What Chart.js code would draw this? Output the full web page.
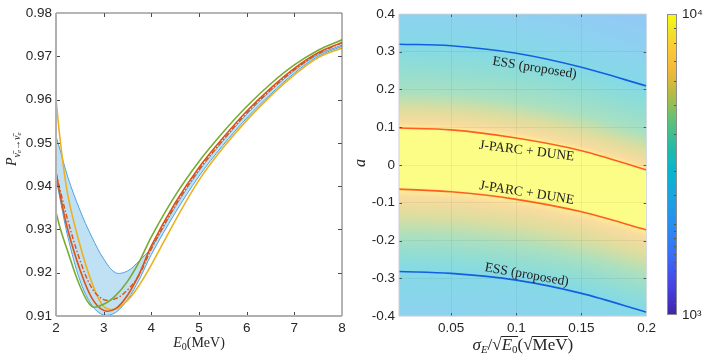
<!DOCTYPE html>
<html>
<head>
<meta charset="utf-8">
<script src="https://cdn.jsdelivr.net/npm/chart.js@4.4.0/dist/chart.umd.min.js"></script>
<style>
html, body { margin: 0; padding: 0; background: #fff; }
#wrap { position: relative; width: 706px; height: 358px; overflow: hidden; }
canvas { position: absolute; top: 0; }
</style>
</head>
<body>
<div id="wrap">
  <canvas id="left" width="350" height="358" style="left:0"></canvas>
  <canvas id="right" width="314" height="358" style="left:346px"></canvas>
  <canvas id="cbar" width="46" height="358" style="left:660px"></canvas>
</div>
<script>
// ---- left panel: survival probability vs E0 ----
const energy = [2, 2.1, 2.25, 2.5, 2.75, 3, 3.25, 3.5, 3.75, 4, 4.5, 5, 5.5, 6, 6.5, 7, 7.5, 8];
const probGreen = [0.9340, 0.9298, 0.9248, 0.9170, 0.9122, 0.9127, 0.9147, 0.9180, 0.9226, 0.9283, 0.9378, 0.9457, 0.9524, 0.9584, 0.9636, 0.9680, 0.9714, 0.9738];
const probRed = [0.9433, 0.9372, 0.9298, 0.9208, 0.9142, 0.9113, 0.9117, 0.9148, 0.9198, 0.9262, 0.9361, 0.9443, 0.9511, 0.9573, 0.9626, 0.9672, 0.9708, 0.9732];
const probRedDash = [0.9430, 0.9385, 0.9320, 0.9230, 0.9165, 0.9138, 0.9140, 0.9160, 0.9196, 0.9255, 0.9355, 0.9438, 0.9506, 0.9569, 0.9622, 0.9669, 0.9706, 0.9731];
const probYellow = [0.9600, 0.9495, 0.9378, 0.9265, 0.9178, 0.9122, 0.9116, 0.9136, 0.9172, 0.9218, 0.9320, 0.9414, 0.9488, 0.9552, 0.9608, 0.9657, 0.9697, 0.9719];
const bandUpper = [0.9516, 0.9478, 0.9420, 0.9345, 0.9283, 0.9232, 0.9200, 0.9204, 0.9228, 0.9258, 0.9352, 0.9435, 0.9504, 0.9566, 0.9620, 0.9667, 0.9704, 0.9726];
const bandLower = [0.9420, 0.9362, 0.9282, 0.9183, 0.9125, 0.9102, 0.9108, 0.9138, 0.9185, 0.9242, 0.9338, 0.9423, 0.9494, 0.9557, 0.9612, 0.9661, 0.9700, 0.9723];

// ---- right panel: sensitivity in (sigma_E, a) ----
const sigmaGrid = [0.01, 0.05, 0.1, 0.15, 0.2];
const essUpper = [0.320, 0.316, 0.296, 0.259, 0.209];
const jparcUpper = [0.098, 0.093, 0.0715, 0.038, -0.013];
const jparcLower = [-0.064, -0.071, -0.091, -0.124, -0.172];
const essLower = [-0.282, -0.287, -0.305, -0.340, -0.390];

// contour lines of the colour field (top to bottom), level = position on colour bar 0..1
const heatLevels = [0.31, 0.40, 0.47, 0.55, 0.63, 0.74, 0.81, 1.0, 1.0, 0.81, 0.74, 0.63, 0.55, 0.47, 0.40];
const c031 = [0.510, 0.505, 0.485, 0.450, 0.399];
const c040 = [0.400, 0.395, 0.375, 0.340, 0.289];
const c047 = [0.320, 0.316, 0.296, 0.259, 0.209];
const c055 = [0.262, 0.257, 0.237, 0.202, 0.151];
const c063 = [0.195, 0.190, 0.170, 0.135, 0.084];
const c074 = [0.150, 0.145, 0.125, 0.090, 0.039];
const c081 = [0.112, 0.107, 0.087, 0.052, 0.001];
const c100 = [0.092, 0.087, 0.067, 0.032, -0.019];
const d100 = [-0.056, -0.062, -0.081, -0.115, -0.164];
const d081 = [-0.085, -0.091, -0.110, -0.144, -0.193];
const d074 = [-0.135, -0.141, -0.160, -0.194, -0.243];
const d063 = [-0.190, -0.196, -0.215, -0.249, -0.298];
const d055 = [-0.240, -0.246, -0.265, -0.299, -0.348];
const d047 = [-0.282, -0.287, -0.305, -0.340, -0.390];
const d040 = [-0.400, -0.406, -0.425, -0.459, -0.508];
const heatContours = [c031, c040, c047, c055, c063, c074, c081, c100, d100, d081, d074, d063, d055, d047, d040];

const cbarRange = [1000, 10000];

// parula-like colour map
const parulaStops = [
  [0.00, 62, 38, 168], [0.10, 71, 68, 228], [0.20, 58, 110, 248], [0.30, 40, 142, 238],
  [0.40, 26, 165, 224], [0.48, 8, 181, 204], [0.56, 37, 187, 166], [0.63, 82, 192, 131],
  [0.70, 147, 191, 85], [0.76, 201, 186, 58], [0.81, 240, 184, 62], [0.88, 251, 201, 53],
  [0.94, 242, 224, 42], [1.00, 249, 251, 14]
];
function parula(t) {
  t = Math.max(0, Math.min(1, t));
  for (let i = 0; i < parulaStops.length - 1; i++) {
    const a = parulaStops[i], b = parulaStops[i + 1];
    if (t <= b[0]) {
      const f = (t - a[0]) / (b[0] - a[0]);
      return [1, 2, 3].map(k => a[k] + (b[k] - a[k]) * f);
    }
  }
  return parulaStops[parulaStops.length - 1].slice(1);
}
function rgb(c) { return 'rgb(' + c.map(Math.round).join(',') + ')'; }
function faded(t) { return rgb(parula(t).map(v => (v + 255) / 2)); } // face alpha 0.5 on white

function monotone(xs, ys, v) {
  const n = xs.length, d = [], m = [];
  for (let i = 0; i < n - 1; i++) d[i] = (ys[i + 1] - ys[i]) / (xs[i + 1] - xs[i]);
  m[0] = d[0]; m[n - 1] = d[n - 2];
  for (let i = 1; i < n - 1; i++) m[i] = d[i - 1] * d[i] <= 0 ? 0 : (d[i - 1] + d[i]) / 2;
  for (let i = 0; i < n - 1; i++) {
    if (d[i] === 0) { m[i] = m[i + 1] = 0; continue; }
    const a = m[i] / d[i], b = m[i + 1] / d[i], s = a * a + b * b;
    if (s > 9) { const t = 3 / Math.sqrt(s); m[i] = t * a * d[i]; m[i + 1] = t * b * d[i]; }
  }
  let k = 0;
  while (k < n - 2 && v > xs[k + 1]) k++;
  const h = xs[k + 1] - xs[k], t = (v - xs[k]) / h;
  const t2 = t * t, t3 = t2 * t;
  return (2 * t3 - 3 * t2 + 1) * ys[k] + (t3 - 2 * t2 + t) * h * m[k] + (-2 * t3 + 3 * t2) * ys[k + 1] + (t3 - t2) * h * m[k + 1];
}

const pts = (xs, ys) => xs.map((x, i) => ({ x: x, y: ys[i] }));
const sans = '"Liberation Sans", Arial, Helvetica, sans-serif';
const serif = '"Liberation Serif", "Times New Roman", serif';
const tickFont = { family: sans, size: 13.5 };
const tickColor = '#262626';

function drawRich(ctx, parts, x, y, align) {
  let w = 0;
  parts.forEach(p => { ctx.font = p.font; p.w = ctx.measureText(p.text).width; w += p.w; });
  let cx = align === 'center' ? x - w / 2 : x;
  ctx.textAlign = 'left';
  ctx.textBaseline = 'alphabetic';
  parts.forEach(p => {
    ctx.font = p.font;
    ctx.fillText(p.text, cx, y + (p.dy || 0));
    if (p.over !== undefined) ctx.fillRect(cx - 0.5, y + p.over, p.w + 1, 1);
    cx += p.w;
  });
}

function boxTicks(chart, o) {
  const { ctx, chartArea: a } = chart;
  const xs = chart.scales.x, ys = chart.scales.y;
  ctx.save();
  ctx.strokeStyle = o.tick; ctx.lineWidth = 1;
  ctx.beginPath();
  xs.ticks.forEach(t => {
    const px = Math.round(xs.getPixelForValue(t.value)) + 0.5;
    if (px < a.left + 2 || px > a.right - 2) return;
    ctx.moveTo(px, a.bottom); ctx.lineTo(px, a.bottom - o.len);
    ctx.moveTo(px, a.top); ctx.lineTo(px, a.top + o.len);
  });
  ys.ticks.forEach(t => {
    const py = Math.round(ys.getPixelForValue(t.value)) + 0.5;
    if (py < a.top + 2 || py > a.bottom - 2) return;
    ctx.moveTo(a.left, py); ctx.lineTo(a.left + o.len, py);
    ctx.moveTo(a.right, py); ctx.lineTo(a.right - o.len, py);
  });
  ctx.stroke();
  const line = (x1, y1, x2, y2, c, w) => { ctx.strokeStyle = c; ctx.lineWidth = w; ctx.beginPath(); ctx.moveTo(x1, y1); ctx.lineTo(x2, y2); ctx.stroke(); };
  line(a.left, a.top, a.right, a.top, o.top, 1);
  line(a.right, a.top, a.right, a.bottom, o.top, 1);
  line(a.left, a.top, a.left, a.bottom, o.axis, o.axisW);
  line(a.left, a.bottom, a.right, a.bottom, o.axis, o.axisW);
  ctx.restore();
}

function lineSet(ys, color, width, xs) {
  return { data: pts(xs || energy, ys), borderColor: color, borderWidth: width, pointRadius: 0, fill: false, tension: 0.35 };
}

// left chart
new Chart(document.getElementById('left'), {
  type: 'line',
  data: {
    datasets: [
      lineSet(probGreen, '#77ac30', 1.6),
      lineSet(probRed, '#d95319', 1.6),
      Object.assign(lineSet(probRedDash, '#d95319', 1.4), { borderDash: [5, 2, 1.5, 2] }),
      lineSet(probYellow, '#edb120', 1.6),
      lineSet(bandUpper, '#4da3e0', 1),
      Object.assign(lineSet(bandLower, '#4da3e0', 1), { fill: '-1', backgroundColor: 'rgb(192,224,244)' })
    ]
  },
  options: {
    animation: false, responsive: false, devicePixelRatio: 1,
    layout: { padding: { top: 13, right: 8, left: 0, bottom: 0 } },
    plugins: { legend: { display: false }, tooltip: { enabled: false } },
    scales: {
      x: {
        type: 'linear', min: 2, max: 8,
        ticks: { stepSize: 1, font: tickFont, color: tickColor, padding: 4, maxRotation: 0 },
        grid: { display: false, drawTicks: false }, border: { display: false },
        afterFit(s) { s.height = 42; }
      },
      y: {
        min: 0.91, max: 0.98,
        ticks: { stepSize: 0.01, font: tickFont, color: tickColor, padding: 4 },
        grid: { display: false, drawTicks: false }, border: { display: false },
        afterFit(s) { s.width = 56; }
      }
    }
  },
  plugins: [{
    id: 'leftDecor',
    afterDraw(chart) {
      boxTicks(chart, { tick: '#4a4a4a', len: 4, top: '#6a6a6a', axis: '#b0b0b0', axisW: 2 });
      const ctx = chart.ctx;
      ctx.save();
      ctx.fillStyle = '#262626';
      drawRich(ctx, [
        { text: 'E', font: 'italic 14px ' + serif },
        { text: '0', font: '10px ' + serif, dy: 3 },
        { text: '(MeV)', font: '14px ' + serif }
      ], (chart.chartArea.left + chart.chartArea.right) / 2, 347, 'center');
      ctx.translate(16, 166);
      ctx.rotate(-Math.PI / 2);
      drawRich(ctx, [
        { text: 'P', font: 'italic 14px ' + serif },
        { text: 'ν\u0304', font: 'italic 10px ' + serif, dy: 3.5 },
        { text: 'e', font: 'italic 7px ' + serif, dy: 5 },
        { text: '→', font: '10px ' + serif, dy: 3.5 },
        { text: 'ν\u0304', font: 'italic 10px ' + serif, dy: 3.5 },
        { text: 'e', font: 'italic 7px ' + serif, dy: 5 }
      ], 0, 0, 'left');
      ctx.restore();
    }
  }]
});

// right chart
const curveLabels = [
  { text: 'ESS (proposed)', x: 0.114, y: 0.257, angle: 9 },
  { text: 'J-PARC + DUNE', x: 0.108, y: 0.037, angle: 7 },
  { text: 'J-PARC + DUNE', x: 0.108, y: -0.074, angle: 9 },
  { text: 'ESS (proposed)', x: 0.108, y: -0.291, angle: 10 }
];

const heatPlugin = {
  id: 'heat',
  beforeDraw(chart) {
    const { ctx, chartArea: a } = chart;
    const xs = chart.scales.x, ys = chart.scales.y;
    ctx.save();
    ctx.beginPath(); ctx.rect(a.left, a.top, a.right - a.left, a.bottom - a.top); ctx.clip();
    for (let px = Math.floor(a.left); px < Math.ceil(a.right); px++) {
      const v = Math.max(sigmaGrid[0], Math.min(sigmaGrid[sigmaGrid.length - 1], xs.getValueForPixel(px + 0.5)));
      const stops = heatContours.map((c, i) => ({ py: ys.getPixelForValue(monotone(sigmaGrid, c, v)), t: heatLevels[i] }));
      const y0 = stops[0].py, y1 = stops[stops.length - 1].py;
      const g = ctx.createLinearGradient(0, y0, 0, y1);
      for (let i = 0; i < stops.length; i++) {
        const s = stops[i];
        g.addColorStop(Math.max(0, Math.min(1, (s.py - y0) / (y1 - y0))), faded(s.t));
        if (i < stops.length - 1) {
          const n = stops[i + 1];
          for (let k = 1; k < 4; k++) {
            const f = k / 4;
            g.addColorStop(Math.max(0, Math.min(1, (s.py + (n.py - s.py) * f - y0) / (y1 - y0))), faded(s.t + (n.t - s.t) * f));
          }
        }
      }
      ctx.fillStyle = g;
      ctx.fillRect(px, a.top, 1, a.bottom - a.top);
    }
    ctx.restore();
  }
};

new Chart(document.getElementById('right'), {
  type: 'line',
  data: {
    datasets: [
      Object.assign(lineSet(essUpper, 'rgb(20,95,225)', 1.6, sigmaGrid), { cubicInterpolationMode: 'monotone' }),
      Object.assign(lineSet(jparcUpper, 'rgb(255,95,30)', 1.6, sigmaGrid), { cubicInterpolationMode: 'monotone' }),
      Object.assign(lineSet(jparcLower, 'rgb(255,95,30)', 1.6, sigmaGrid), { cubicInterpolationMode: 'monotone' }),
      Object.assign(lineSet(essLower, 'rgb(20,95,225)', 1.6, sigmaGrid), { cubicInterpolationMode: 'monotone' })
    ]
  },
  options: {
    animation: false, responsive: false, devicePixelRatio: 1,
    layout: { padding: { top: 14, right: 8, left: 0, bottom: 0 } },
    plugins: { legend: { display: false }, tooltip: { enabled: false } },
    scales: {
      x: {
        type: 'linear', min: 0.01, max: 0.2,
        afterBuildTicks(s) { s.ticks = [0.05, 0.1, 0.15, 0.2].map(v => ({ value: v })); },
        ticks: { font: tickFont, color: tickColor, padding: 4, maxRotation: 0, callback: v => String(v) },
        grid: { color: 'rgba(0,0,0,0.05)', drawTicks: false }, border: { display: false },
        afterFit(s) { s.height = 42; }
      },
      y: {
        min: -0.4, max: 0.4,
        ticks: { stepSize: 0.1, font: tickFont, color: tickColor, padding: 4 },
        grid: { color: 'rgba(0,0,0,0.05)', drawTicks: false }, border: { display: false },
        afterFit(s) { s.width = 53; }
      }
    }
  },
  plugins: [heatPlugin, {
    id: 'rightDecor',
    afterDraw(chart) {
      boxTicks(chart, { tick: '#555', len: 3, top: '#d4dde4', axis: '#c8d0d8', axisW: 1 });
      const { ctx, chartArea: a } = chart;
      const xs = chart.scales.x, ys = chart.scales.y;
      ctx.save();
      ctx.fillStyle = '#222';
      ctx.font = '13.5px ' + serif;
      ctx.textAlign = 'center'; ctx.textBaseline = 'middle';
      curveLabels.forEach(l => {
        ctx.save();
        ctx.translate(xs.getPixelForValue(l.x), ys.getPixelForValue(l.y));
        ctx.rotate(l.angle * Math.PI / 180);
        ctx.fillText(l.text, 0, 0);
        ctx.restore();
      });
      ctx.fillStyle = '#262626';
      drawRich(ctx, [
        { text: 'σ', font: 'italic 17px ' + serif },
        { text: 'E', font: 'italic 11px ' + serif, dy: 3 },
        { text: '/', font: '17px ' + serif },
        { text: '√', font: '17px ' + serif },
        { text: 'E', font: 'italic 17px ' + serif, over: -14 },
        { text: '0', font: '11px ' + serif, dy: 3, over: -14 },
        { text: '(', font: '17px ' + serif },
        { text: '√', font: '17px ' + serif },
        { text: 'MeV', font: '17px ' + serif, over: -14 },
        { text: ')', font: '17px ' + serif }
      ], (a.left + a.right) / 2, 350, 'center');
      ctx.translate(19, 163);
      ctx.rotate(-Math.PI / 2);
      drawRich(ctx, [{ text: 'a', font: 'italic 16px ' + serif }], 0, 0, 'center');
      ctx.restore();
    }
  }]
});

// colour bar
new Chart(document.getElementById('cbar'), {
  type: 'bar',
  data: {
    labels: [''],
    datasets: [{
      data: [cbarRange],
      borderWidth: 0, barPercentage: 1, categoryPercentage: 1,
      backgroundColor(c) {
        const a = c.chart.chartArea;
        if (!a) return '#ccc';
        const g = c.chart.ctx.createLinearGradient(0, a.bottom, 0, a.top);
        parulaStops.forEach(s => g.addColorStop(s[0], rgb(s.slice(1))));
        return g;
      }
    }]
  },
  options: {
    animation: false, responsive: false, devicePixelRatio: 1,
    layout: { padding: { top: 14, right: 0, left: 7, bottom: 43 } },
    plugins: { legend: { display: false }, tooltip: { enabled: false } },
    scales: {
      x: { display: false },
      y: {
        type: 'logarithmic', position: 'right', min: cbarRange[0], max: cbarRange[1],
        ticks: { font: tickFont, color: tickColor, padding: 5, autoSkip: false,
          callback: v => v === 10000 ? '10⁴' : (v === 1000 ? '10³' : '') },
        grid: { display: false, drawTicks: false }, border: { display: false },
        afterFit(s) { s.width = 29; }
      }
    }
  },
  plugins: [{
    id: 'cbarDecor',
    afterDraw(chart) {
      const { ctx, chartArea: a } = chart;
      const ys = chart.scales.y;
      ctx.save();
      ctx.strokeStyle = '#555'; ctx.lineWidth = 1;
      ctx.beginPath();
      ys.ticks.forEach(t => {
        const py = Math.round(ys.getPixelForValue(t.value)) + 0.5;
        if (py < a.top + 2 || py > a.bottom - 2) return;
        ctx.moveTo(a.right, py); ctx.lineTo(a.right - 3, py);
      });
      ctx.stroke();
      ctx.strokeStyle = '#8c8c8c';
      ctx.strokeRect(Math.round(a.left) + 0.5, Math.round(a.top) + 0.5, Math.round(a.right - a.left) - 1, Math.round(a.bottom - a.top) - 1);
      ctx.restore();
    }
  }]
});
</script>
</body>
</html>
